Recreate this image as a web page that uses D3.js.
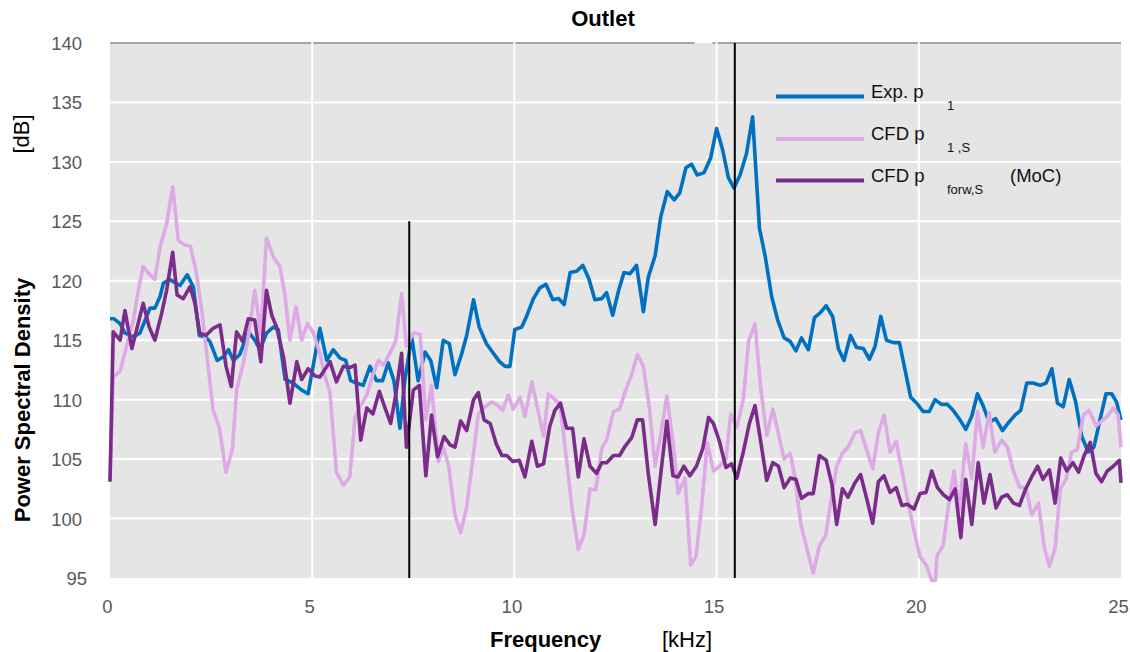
<!DOCTYPE html>
<html><head><meta charset="utf-8">
<script src="https://cdn.jsdelivr.net/npm/d3@7"></script>
<style>
html,body{margin:0;padding:0;background:#fff;}
svg{display:block;font-family:"Liberation Sans",Arial,sans-serif;}
</style>
</head><body>
<svg id="chart" width="1130" height="652"></svg>
<script>
// ---------- data ----------
const xTicks = [0, 5, 10, 15, 20, 25];
const yTicks = [95, 100, 105, 110, 115, 120, 125, 130, 135, 140];
const markerFreqs = [7.4, 15.45];
const markerTops = [125, 140];

// Exp. p1  [kHz, dB]
const expData = [
[0,116.8],[0.1,116.8],[0.25,116.4],[0.37,115.6],[0.58,115.3],[0.74,115.6],[0.87,116.7],[0.99,117.7],[1.11,117.7],[1.24,118.7],
[1.32,119.8],[1.48,120.1],[1.73,119.6],[1.91,120.5],[2.06,119.5],[2.21,115.4],[2.35,115.3],[2.47,114.9],[2.65,113.3],[2.8,113.6],
[2.93,114.2],[3.05,113.3],[3.21,113.8],[3.42,115.7],[3.58,115.0],[3.71,114.2],[3.87,115.6],[4.04,116.1],[4.16,115.9],[4.33,111.7],
[4.53,111.4],[4.74,110.8],[4.9,110.5],[5.19,116.0],[5.36,113.3],[5.52,114.2],[5.69,113.5],[5.83,113.3],[5.95,111.6],[6.1,111.4],
[6.26,111.2],[6.43,112.8],[6.59,111.6],[6.74,111.6],[6.88,113.1],[7.02,111.6],[7.17,107.6],[7.29,111.6],[7.46,115.3],[7.62,111.6],
[7.79,114.0],[7.93,113.3],[8.08,111.0],[8.24,115.0],[8.39,114.7],[8.53,112.1],[8.7,113.9],[8.82,115.4],[8.99,118.4],[9.13,116.1],
[9.31,114.7],[9.48,113.9],[9.63,113.2],[9.77,112.8],[9.89,112.8],[10.01,115.9],[10.18,116.1],[10.3,117.0],[10.47,118.5],[10.63,119.4],
[10.78,119.7],[10.95,118.4],[11.09,118.5],[11.23,118.0],[11.38,120.7],[11.54,120.8],[11.69,121.3],[11.84,120.2],[11.99,118.4],[12.16,118.5],
[12.28,119.0],[12.43,117.1],[12.57,119.1],[12.71,120.7],[12.86,120.6],[13.02,121.3],[13.19,117.4],[13.31,120.3],[13.48,122.1],[13.62,125.4],
[13.78,127.5],[13.95,126.8],[14.09,127.4],[14.24,129.5],[14.38,129.8],[14.52,128.9],[14.69,129.1],[14.85,130.3],[15.0,132.8],[15.15,131.0],
[15.29,128.7],[15.43,127.8],[15.58,128.9],[15.74,130.7],[15.89,133.8],[16.06,124.4],[16.2,122.1],[16.36,118.7],[16.51,116.7],[16.67,115.2],
[16.82,114.9],[16.96,114.1],[17.1,115.2],[17.27,114.2],[17.42,116.9],[17.56,117.3],[17.71,117.9],[17.87,117.0],[18.01,114.3],[18.15,113.3],
[18.31,115.4],[18.46,114.4],[18.63,114.3],[18.78,113.4],[18.92,114.5],[19.06,117.0],[19.2,115.0],[19.37,114.8],[19.52,114.8],[19.66,112.5],
[19.8,110.2],[19.95,109.7],[20.11,109.0],[20.26,109.0],[20.4,110.0],[20.56,109.6],[20.71,109.6],[20.85,109.1],[21.0,108.4],[21.16,107.5],
[21.31,108.6],[21.45,110.5],[21.59,109.5],[21.74,108.1],[21.9,108.4],[22.07,107.4],[22.2,108.0],[22.38,108.7],[22.52,109.1],[22.67,111.4],
[22.83,111.4],[23.0,111.2],[23.15,111.4],[23.29,112.6],[23.43,109.7],[23.57,109.4],[23.72,111.7],[23.88,109.8],[24.03,106.9],[24.19,105.6],
[24.33,106.0],[24.48,108.3],[24.63,110.5],[24.77,110.5],[24.89,109.8],[25.0,108.3]
];

// CFD p1,S
const cfdData = [
[0,103.3],[0.08,111.9],[0.25,112.4],[0.58,116.7],[0.7,119.2],[0.82,121.2],[0.99,120.5],[1.11,120.1],[1.24,122.9],[1.4,124.8],
[1.55,127.9],[1.69,123.4],[1.85,123.0],[1.99,122.9],[2.14,120.6],[2.27,117.5],[2.39,113.9],[2.55,109.1],[2.7,107.7],[2.87,103.9],
[3.03,105.9],[3.13,110.8],[3.3,113.1],[3.42,115.3],[3.58,119.2],[3.73,115.5],[3.87,123.6],[4.04,122.0],[4.2,121.2],[4.33,118.7],
[4.45,115.0],[4.6,117.8],[4.74,115.0],[4.88,116.4],[5.03,115.6],[5.19,113.9],[5.32,111.9],[5.44,110.6],[5.6,103.9],[5.77,102.8],
[5.93,103.5],[6.06,108.5],[6.18,109.4],[6.35,110.4],[6.51,112.2],[6.64,113.3],[6.76,112.9],[6.92,113.9],[7.07,115.0],[7.21,118.9],
[7.33,114.5],[7.5,115.6],[7.67,115.5],[7.81,108.3],[7.95,111.2],[8.12,104.8],[8.24,106.0],[8.37,104.5],[8.53,100.3],[8.67,98.8],
[8.82,101.0],[8.99,105.5],[9.11,108.8],[9.27,109.4],[9.44,109.8],[9.56,109.6],[9.71,109.1],[9.85,110.4],[9.97,109.2],[10.14,110.2],
[10.26,108.6],[10.43,111.5],[10.57,109.3],[10.72,106.9],[10.84,110.5],[11.0,110.0],[11.13,109.6],[11.28,105.2],[11.42,101.0],[11.58,97.4],
[11.72,98.6],[11.87,102.5],[12.01,102.4],[12.16,105.9],[12.28,106.6],[12.45,109.0],[12.6,109.2],[12.74,110.7],[12.9,112.1],[13.04,113.8],
[13.19,112.8],[13.34,109.2],[13.48,104.4],[13.62,107.1],[13.77,110.3],[13.92,106.5],[14.05,102.1],[14.22,103.4],[14.36,96.1],[14.49,96.8],
[14.63,101.0],[14.77,106.4],[14.92,104.0],[15.07,104.4],[15.23,105.0],[15.35,108.8],[15.5,107.7],[15.66,110.0],[15.79,114.9],[15.95,116.4],
[16.09,111.0],[16.24,107.0],[16.39,109.2],[16.53,107.1],[16.67,105.0],[16.82,105.5],[16.94,103.4],[17.08,99.6],[17.23,97.5],[17.39,95.4],
[17.54,97.7],[17.7,98.6],[17.84,101.8],[17.97,104.4],[18.11,105.5],[18.25,106.0],[18.42,107.2],[18.56,107.4],[18.71,105.8],[18.86,104.2],
[19.0,107.2],[19.14,108.7],[19.29,105.6],[19.44,106.5],[19.58,104.1],[19.72,101.6],[19.88,99.0],[20.03,96.8],[20.18,96.1],[20.32,94.8],
[20.41,94.8],[20.45,96.9],[20.6,97.7],[20.73,101.0],[20.87,104.0],[21.0,100.7],[21.16,106.3],[21.31,103.4],[21.45,109.0],[21.59,106.0],
[21.74,108.9],[21.88,105.6],[22.05,106.6],[22.19,106.0],[22.34,104.0],[22.5,102.6],[22.65,102.6],[22.79,100.3],[22.96,101.3],[23.1,97.6],
[23.23,96.0],[23.37,97.5],[23.5,102.5],[23.64,103.3],[23.78,105.6],[23.92,105.8],[24.07,108.7],[24.21,109.1],[24.38,107.8],[24.52,108.2],
[24.66,108.6],[24.81,109.3],[24.93,108.7],[25.0,106.0]
];

// CFD p_forw,S (MoC)
const mocData = [
[0,103.1],[0.08,115.7],[0.25,115.0],[0.37,117.5],[0.54,114.3],[0.66,115.9],[0.82,118.1],[0.97,116.1],[1.11,115.0],[1.28,117.3],
[1.4,119.2],[1.55,122.4],[1.66,118.8],[1.81,118.5],[1.98,119.5],[2.1,118.1],[2.22,115.6],[2.37,115.4],[2.55,116.0],[2.72,116.3],
[2.87,112.8],[3.0,111.1],[3.13,115.7],[3.28,114.9],[3.42,116.8],[3.58,116.7],[3.73,113.2],[3.87,119.2],[4.0,117.1],[4.12,116.1],
[4.29,113.6],[4.45,109.7],[4.62,113.2],[4.74,111.7],[4.9,112.6],[5.07,112.0],[5.19,111.9],[5.44,113.2],[5.6,111.5],[5.77,112.8],
[5.93,112.7],[6.06,112.9],[6.2,106.6],[6.35,109.3],[6.5,108.8],[6.66,110.7],[6.8,109.3],[6.94,108.0],[7.07,110.5],[7.21,113.9],
[7.33,106.0],[7.5,110.8],[7.65,111.2],[7.81,103.6],[7.95,108.7],[8.1,105.2],[8.26,106.9],[8.41,106.2],[8.53,106.0],[8.67,108.2],
[8.82,107.4],[8.99,110.0],[9.11,110.6],[9.25,108.3],[9.4,108.0],[9.55,106.3],[9.69,105.3],[9.81,105.3],[9.96,104.8],[10.12,104.9],
[10.26,103.5],[10.43,106.5],[10.57,104.4],[10.72,104.6],[10.87,107.7],[11.0,109.1],[11.14,109.7],[11.29,107.6],[11.44,107.6],[11.58,103.5],
[11.72,106.7],[11.87,104.4],[12.03,103.8],[12.16,104.7],[12.28,104.7],[12.45,105.3],[12.6,105.3],[12.74,106.1],[12.9,106.8],[13.04,108.3],
[13.17,108.3],[13.31,103.8],[13.48,99.5],[13.62,103.8],[13.77,108.2],[13.92,103.6],[14.05,103.5],[14.19,104.4],[14.34,103.6],[14.5,104.4],
[14.66,105.9],[14.8,108.5],[14.92,108.0],[15.07,106.5],[15.23,104.3],[15.37,104.6],[15.5,103.4],[15.66,105.6],[15.81,108.0],[15.95,109.5],
[16.09,106.5],[16.24,103.2],[16.39,104.7],[16.53,104.4],[16.67,102.6],[16.82,103.4],[16.96,103.3],[17.1,101.7],[17.27,102.1],[17.39,102.1],
[17.54,105.3],[17.71,104.9],[17.85,102.9],[17.97,99.5],[18.11,102.5],[18.25,101.8],[18.42,103.0],[18.56,103.7],[18.71,101.7],[18.86,99.6],
[19.0,103.1],[19.14,103.6],[19.29,102.2],[19.44,102.6],[19.58,101.1],[19.72,101.2],[19.88,100.8],[20.03,102.1],[20.18,102.2],[20.32,104.0],
[20.46,102.6],[20.61,102.0],[20.76,101.6],[20.9,102.5],[21.04,98.4],[21.16,103.3],[21.31,99.5],[21.47,104.7],[21.61,101.3],[21.76,103.7],
[21.91,100.9],[22.05,101.8],[22.19,102.0],[22.34,101.3],[22.49,101.1],[22.63,102.4],[22.79,103.5],[22.94,104.4],[23.07,103.3],[23.23,104.1],
[23.37,101.3],[23.51,105.1],[23.66,104.0],[23.81,104.7],[23.95,103.9],[24.09,105.3],[24.24,106.4],[24.38,103.8],[24.52,103.1],[24.66,104.0],
[24.81,104.4],[24.96,104.9],[25.0,103.0]
];

const seriesNames = ["Exp. p", "CFD p", "CFD p"];
const seriesSubs = ["1", "1 ,S", "forw,S"];
const seriesSuffix = ["", "", "(MoC)"];
const seriesColors = ["#0070C0", "#DDAAE6", "#7B2C8B"];

// ---------- drawing ----------
const svg = d3.select("#chart");
const x = d3.scaleLinear().domain([0, 25]).range([110, 1121]);
const y = d3.scaleLinear().domain([95, 140]).range([578, 43]);

// plot background
svg.append("rect")
  .attr("x", x(0)).attr("y", y(140))
  .attr("width", x(25) - x(0)).attr("height", y(95) - y(140))
  .attr("fill", "#E5E5E5");

// horizontal gridlines
svg.append("g").selectAll("line")
  .data(yTicks.filter(v => v > 95 && v < 140)).join("line")
  .attr("x1", x(0)).attr("x2", x(25))
  .attr("y1", d => y(d)).attr("y2", d => y(d))
  .attr("stroke", "#fff").attr("stroke-width", 2);

// top border (grey)
svg.append("g").selectAll("line")
  .data([[0, 14.45], [14.9, 25]]).join("line")
  .attr("x1", d => x(d[0])).attr("x2", d => x(d[1]))
  .attr("y1", y(140)).attr("y2", y(140))
  .attr("stroke", "#8a8a8a").attr("stroke-width", 1.5);

// vertical gridlines
svg.append("g").selectAll("line")
  .data(xTicks.filter(v => v > 0 && v < 25)).join("line")
  .attr("x1", d => x(d)).attr("x2", d => x(d))
  .attr("y1", y(140) - 2).attr("y2", y(95))
  .attr("stroke", "#fff").attr("stroke-width", 2);

// series
const line = d3.line().x(d => x(d[0])).y(d => y(d[1]));
[expData, cfdData, mocData].forEach((data, i) => {
  svg.append("path")
    .datum(data)
    .attr("d", line)
    .attr("fill", "none")
    .attr("stroke", seriesColors[i])
    .attr("stroke-width", 3.6)
    .attr("stroke-linejoin", "round")
    .attr("stroke-linecap", "butt");
});

// black marker lines
svg.append("g").selectAll("line")
  .data(markerFreqs).join("line")
  .attr("x1", d => x(d)).attr("x2", d => x(d))
  .attr("y1", (d, i) => y(markerTops[i])).attr("y2", y(95))
  .attr("stroke", "#000").attr("stroke-width", 2);

// y axis labels
const yAxis = svg.append("g")
  .attr("transform", `translate(${x(0)},0)`)
  .call(d3.axisLeft(y).tickValues(yTicks).tickSize(0).tickPadding(28).tickFormat(d3.format("d")));
yAxis.select(".domain").remove();
yAxis.attr("font-family", null).attr("font-size", null);
yAxis.selectAll("text")
  .attr("font-size", 18.5).attr("fill", "#595959")
  .attr("dy", "0.35em")
  .attr("dx", d => d === 95 ? 5 : 0);

// x axis labels
const xAxis = svg.append("g")
  .attr("transform", `translate(0,${y(95)})`)
  .call(d3.axisBottom(x).tickValues(xTicks).tickSize(0).tickPadding(21.5).tickFormat(d3.format("d")));
xAxis.select(".domain").remove();
xAxis.attr("font-family", null).attr("font-size", null);
xAxis.selectAll("text")
  .attr("font-size", 18.5).attr("fill", "#595959")
  .attr("dx", -3);

// title
svg.append("text").attr("x", 603).attr("y", 26)
  .attr("text-anchor", "middle").attr("font-size", 22).attr("font-weight", "bold")
  .text("Outlet");

// y axis title
svg.append("text")
  .attr("transform", "translate(30,400) rotate(-90)")
  .attr("text-anchor", "middle").attr("font-size", 22).attr("font-weight", "bold")
  .text("Power Spectral Density");
svg.append("text")
  .attr("transform", "translate(29,134) rotate(-90)")
  .attr("text-anchor", "middle").attr("font-size", 22)
  .text("[dB]");

// x axis title
svg.append("text").attr("x", 490).attr("y", 647)
  .attr("font-size", 22).attr("font-weight", "bold").text("Frequency");
svg.append("text").attr("x", 662).attr("y", 647)
  .attr("font-size", 22).text("[kHz]");

// legend
const legendY = [97, 139.5, 181];
const lg = svg.append("g");
seriesNames.forEach((name, i) => {
  lg.append("line")
    .attr("x1", 776).attr("x2", 864)
    .attr("y1", legendY[i] - 0.5).attr("y2", legendY[i] - 0.5)
    .attr("stroke", seriesColors[i]).attr("stroke-width", 4);
  lg.append("text").attr("x", 871).attr("y", legendY[i] + 0.5)
    .attr("font-size", 18.5).attr("fill", "#111").text(name);
  lg.append("text").attr("x", 947).attr("y", legendY[i] + 12.5)
    .attr("font-size", 13).attr("fill", "#111").text(seriesSubs[i]);
  if (seriesSuffix[i]) {
    lg.append("text").attr("x", 1010).attr("y", legendY[i] + 0.5)
      .attr("font-size", 18.5).attr("fill", "#111").text(seriesSuffix[i]);
  }
});
</script>
</body></html>
